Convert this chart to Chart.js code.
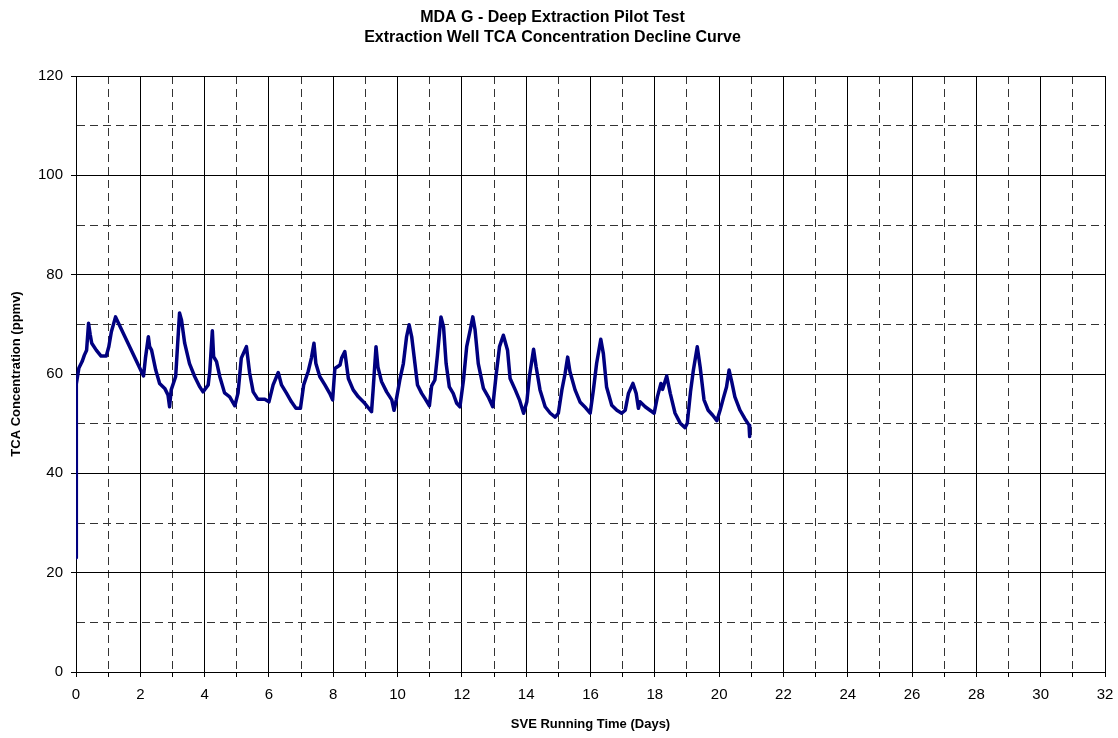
<!DOCTYPE html>
<html>
<head>
<meta charset="utf-8">
<title>TCA Concentration Decline Curve</title>
<script src="https://cdn.jsdelivr.net/npm/chart.js@4.4.0/dist/chart.umd.min.js"></script>
<style>
  html, body { margin: 0; padding: 0; background: #fff; }
  canvas { display: block; }
</style>
</head>
<body>
<canvas id="tcaChart" width="1118" height="738"></canvas>
<script>
// SVE running time (days) and TCA concentration (ppmv)
const days = [
  0.00, 0.01, 0.09, 0.19, 0.26, 0.33, 0.39, 0.44, 0.49, 0.63, 0.78, 0.94,
  1.02, 1.10, 1.23, 2.10, 2.16, 2.25, 2.29, 2.35, 2.48, 2.60, 2.76, 2.86,
  2.91, 2.96, 3.10, 3.14, 3.22, 3.28, 3.38, 3.53, 3.69, 3.85, 3.95, 4.11,
  4.16, 4.24, 4.28, 4.37, 4.47, 4.62, 4.78, 4.94, 5.04, 5.14, 5.30, 5.40,
  5.51, 5.66, 5.87, 6.00, 6.13, 6.29, 6.39, 6.55, 6.70, 6.84, 6.98, 7.08,
  7.22, 7.32, 7.40, 7.46, 7.58, 7.74, 7.89, 7.98, 8.05, 8.21, 8.26, 8.36,
  8.47, 8.62, 8.78, 8.98, 9.19, 9.24, 9.33, 9.39, 9.50, 9.66, 9.82, 9.89,
  9.96, 10.07, 10.18, 10.28, 10.36, 10.44, 10.54, 10.62, 10.75, 10.85, 10.99, 11.06,
  11.16, 11.24, 11.35, 11.43, 11.51, 11.61, 11.73, 11.84, 11.94, 12.05, 12.15, 12.26,
  12.34, 12.41, 12.51, 12.67, 12.82, 12.96, 13.06, 13.17, 13.29, 13.42, 13.50, 13.66,
  13.79, 13.92, 14.02, 14.10, 14.23, 14.31, 14.43, 14.59, 14.75, 14.90, 15.00, 15.11,
  15.21, 15.29, 15.36, 15.52, 15.68, 15.85, 15.99, 16.09, 16.19, 16.32, 16.40, 16.50,
  16.66, 16.82, 16.97, 17.08, 17.18, 17.32, 17.42, 17.49, 17.54, 17.70, 17.85, 17.98,
  18.08, 18.19, 18.24, 18.37, 18.48, 18.63, 18.79, 18.94, 19.01, 19.11, 19.20, 19.32,
  19.41, 19.53, 19.66, 19.80, 19.93, 20.03, 20.13, 20.23, 20.31, 20.39, 20.49, 20.65,
  20.80, 20.93, 20.95
];
const tca = [
  23.0, 58.0, 61.2, 62.5, 63.8, 64.8, 70.2, 68.0, 66.2, 64.8, 63.6, 63.6,
  65.5, 68.5, 71.5, 59.6, 63.2, 67.5, 65.5, 64.8, 60.8, 58.1, 57.1, 55.8,
  53.4, 56.8, 59.5, 63.8, 72.3, 70.9, 66.2, 62.1, 59.5, 57.4, 56.4, 57.8,
  60.5, 68.7, 63.5, 62.5, 59.5, 56.2, 55.4, 53.6, 56.2, 63.2, 65.5, 60.2,
  56.4, 54.9, 54.9, 54.4, 57.8, 60.3, 57.8, 56.1, 54.4, 53.1, 53.1, 57.8,
  60.5, 63.2, 66.2, 62.1, 59.5, 57.8, 56.1, 54.8, 61.1, 61.8, 63.2, 64.5,
  59.1, 56.8, 55.4, 54.1, 52.4, 56.8, 65.5, 61.4, 58.5, 56.4, 54.8, 52.7,
  54.8, 58.8, 62.1, 67.5, 69.9, 67.5, 62.1, 57.8, 56.1, 55.1, 53.6, 57.6,
  58.8, 63.8, 71.5, 69.5, 62.1, 57.4, 56.1, 54.1, 53.4, 58.8, 65.5, 68.9,
  71.5, 68.9, 62.1, 57.1, 55.4, 53.4, 59.5, 65.5, 67.8, 64.8, 59.1, 56.8,
  54.8, 52.1, 54.4, 59.5, 65.0, 61.4, 56.8, 53.4, 52.1, 51.3, 52.1, 56.8,
  60.1, 63.4, 60.5, 56.8, 54.3, 53.2, 52.1, 56.8, 62.1, 67.0, 64.1, 57.4,
  53.7, 52.7, 52.1, 52.7, 56.1, 58.1, 56.1, 53.1, 54.4, 53.4, 52.7, 52.1,
  55.4, 58.1, 56.9, 59.6, 56.1, 52.1, 50.1, 49.2, 50.1, 56.4, 60.8, 65.5,
  61.4, 54.8, 52.7, 51.7, 50.6, 52.7, 55.1, 57.4, 60.8, 58.5, 55.4, 52.7,
  51.0, 49.7, 47.4
];

const xMin = 0, xMax = 32, xStep = 1;   // labels every 2 days
const yMin = 0, yMax = 120, yStep = 10; // labels every 20 ppmv

const points = days.map((d, i) => ({ x: d, y: tca[i] }));

function isMajor(ctx, every) {
  return !ctx.tick || Math.round(ctx.tick.value) % every === 0;
}

const canvas = document.getElementById("tcaChart").getContext("2d");

new Chart(canvas, {
  type: "scatter",
  data: {
    datasets: [
      {
        label: "TCA",
        data: points,
        showLine: true,
        borderColor: "#000080",
        borderWidth: 3.5,
        borderJoinStyle: "round",
        borderCapStyle: "round",
        pointRadius: 0,
        tension: 0,
        fill: false,
      },
    ],
  },
  options: {
    responsive: false,
    animation: false,
    devicePixelRatio: 1,
    layout: { padding: { top: 0, right: 13, bottom: 0, left: 0 } },
    plugins: {
      legend: { display: false },
      tooltip: { enabled: false },
      title: {
        display: true,
        text: ["MDA G - Deep Extraction Pilot Test", "Extraction Well TCA Concentration Decline Curve"],
        color: "#000",
        font: { family: "'Liberation Sans', Arial, sans-serif", size: 16, weight: "bold", lineHeight: 1.25 },
        padding: { top: 8, bottom: 28 },
      },
    },
    scales: {
      x: {
        type: "linear",
        min: xMin,
        max: xMax,
        afterFit: (scale) => {
          scale.height = 66;
          scale.paddingLeft = 0;
          scale.paddingRight = 0;
        },
        ticks: {
          stepSize: xStep,
          autoSkip: false,
          maxRotation: 0,
          padding: 9,
          color: "#000",
          font: { family: "'Liberation Sans', Arial, sans-serif", size: 15 },
          callback: (v) => (v % 2 === 0 ? v : ""),
        },
        grid: {
          color: (ctx) => (isMajor(ctx, 2) ? "#000" : "#333"),
          lineWidth: 1,
          tickLength: 5,
          tickColor: "#000",
        },
        border: {
          display: true,
          color: "#000",
          width: 1,
          dash: (ctx) => (isMajor(ctx, 2) ? [] : [8, 5]),
        },
        title: {
          display: true,
          text: "SVE Running Time (Days)",
          color: "#000",
          font: { family: "'Liberation Sans', Arial, sans-serif", size: 13, weight: "bold" },
          padding: { top: 0, bottom: 6 },
        },
      },
      y: {
        type: "linear",
        min: yMin,
        max: yMax,
        afterFit: (scale) => { scale.width = 76; },
        ticks: {
          stepSize: yStep,
          autoSkip: false,
          padding: 8,
          color: "#000",
          font: { family: "'Liberation Sans', Arial, sans-serif", size: 15 },
          callback: (v) => (v % 20 === 0 ? v : ""),
        },
        grid: {
          color: (ctx) => (isMajor(ctx, 20) ? "#000" : "#333"),
          lineWidth: 1,
          tickLength: 5,
          tickColor: (ctx) => (isMajor(ctx, 20) ? "#000" : "rgba(0,0,0,0)"),
        },
        border: {
          display: true,
          color: "#000",
          width: 1,
          dash: (ctx) => (isMajor(ctx, 20) ? [] : [8, 5]),
        },
        title: {
          display: true,
          text: "TCA Concentration (ppmv)",
          color: "#000",
          font: { family: "'Liberation Sans', Arial, sans-serif", size: 13, weight: "bold" },
          padding: { top: 9, bottom: 0 },
        },
      },
    },
  },
});
</script>
</body>
</html>
